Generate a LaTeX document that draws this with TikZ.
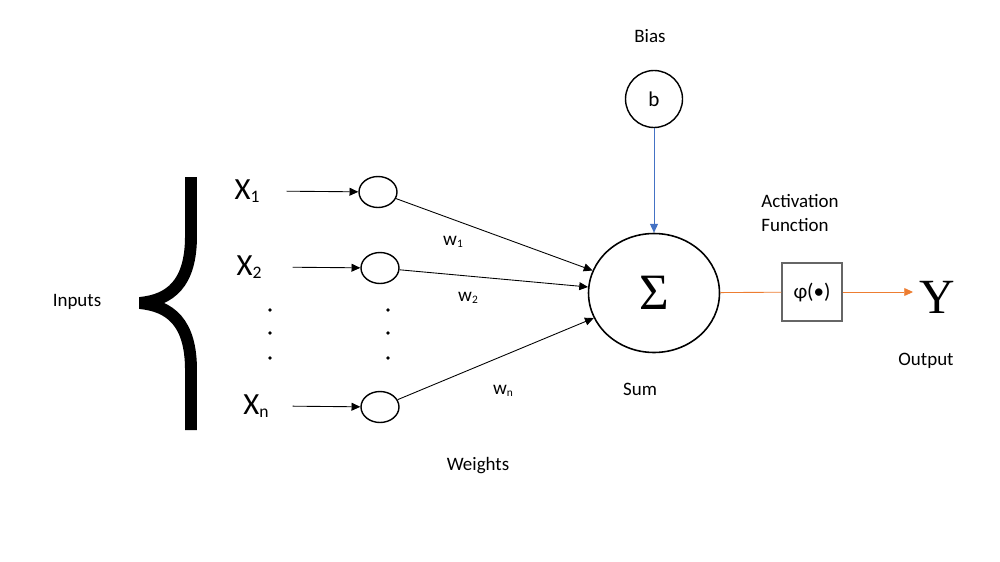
\documentclass[tikz,border=0pt]{standalone}
\usepackage{fontspec}
\setmainfont{Carlito}
\newfontfamily\serifY{Liberation Serif}
\usetikzlibrary{arrows.meta,shapes.geometric}
\definecolor{biasblue}{HTML}{4472C4}
\definecolor{actorange}{HTML}{ED7D31}
\newcommand{\xin}[1]{\fontsize{17.5}{18}\selectfont X\raisebox{-1.7pt}{\fontsize{10}{10}\selectfont #1}}
\newcommand{\wt}[1]{\fontsize{11}{12}\selectfont w\raisebox{-1pt}{\fontsize{6.5}{7}\selectfont #1}}

\begin{document}
\begin{tikzpicture}[x=0.02cm,y=-0.02cm,
  arr/.style={-{Triangle[length=5pt,width=4.5pt]},line width=0.5pt},
  unit/.style={draw,ellipse,line width=0.8pt,minimum width=0.76cm,minimum height=0.62cm,inner sep=0pt},
  lbl/.style={font=\fontsize{10.8}{13.6}\selectfont}]
\useasboundingbox (0,0) rectangle (1000,561);
% brace
\draw[line width=12*0.567pt,line join=bevel]
  (191,177) -- (191,236) .. controls (191,284) and (170,300) .. (140,303)
  .. controls (170,306) and (191,322) .. (191,370) -- (191,430);
\node[lbl] (inputs) at (77,302) {Inputs};
% inputs
\node (x1) at (247,191) {\xin{1}};
\node (x2) at (249,267) {\xin{2}};
\node (xn) at (256,406) {\xin{n}};
\node[unit] (c1) at (378,192) {};
\node[unit] (c2) at (380,268) {};
\node[unit] (cn) at (380,407) {};
\draw[arr,shorten <=21*0.567pt] (x1.east) -- (c1);
\draw[arr,shorten <=25*0.567pt] (x2.east) -- (c2);
\draw[arr,shorten <=18*0.567pt] (xn.east) -- (cn);
% dots
\foreach \y in {310,333,358} {
  \fill (270,\y) circle (1.8);
  \fill (388,\y) circle (1.8);
}
% sum
\node[draw,ellipse,line width=0.9pt,minimum width=2.62cm,minimum height=2.38cm] (sum) at (654,293)
  {\serifY\fontsize{29}{29}\selectfont\raisebox{-2pt}{Σ}};
\draw[arr] (c1) -- (sum);
\draw[arr] (c2) -- (sum);
\draw[arr] (cn) -- (sum);
\node (w1) at (453,242) {\wt{1}};
\node (w2) at (468,298) {\wt{2}};
\node (wn) at (503,391) {\wt{n}};
% bias
\node[draw,circle,line width=0.8pt,minimum size=1.14cm,inner sep=0pt,font=\fontsize{12}{12}\selectfont] (bias) at (654,99) {b};
\node[lbl] (biaslbl) at (650,36) {Bias};
\draw[arr,biasblue] (bias) -- (sum);
% activation and output
\node[draw=black!60,line width=0.8pt,minimum width=1.2cm,minimum height=1.16cm,font=\fontsize{12}{12}\selectfont] (act) at (812,292) {φ(•)};
\node[lbl,align=left] (actlbl) at (800,213) {Activation\\Function};
\node (out) at (937,297) {\serifY\fontsize{28}{28}\selectfont Y};
\draw[actorange,line width=0.5pt] (sum) -- (act);
\draw[arr,actorange] (act.east) -- (act.east -| out.west);
\node[lbl] (outlbl) at (926,361) {Output};
\node[lbl] (sumlbl) at (640,389) {Sum};
\node[lbl] (wlbl) at (478,466) {Weights};
\end{tikzpicture}
\end{document}
